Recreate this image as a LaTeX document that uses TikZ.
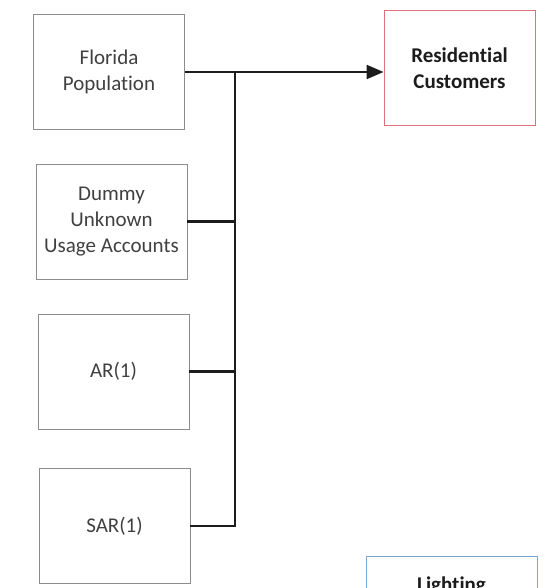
\documentclass[tikz,border=0pt]{standalone}
\usepackage{fontspec}
\setmainfont[Ligatures=NoCommon]{Carlito}
\usetikzlibrary{arrows.meta}
\definecolor{boxgray}{HTML}{8C8C8C}
\definecolor{textgray}{HTML}{404040}
\definecolor{resred}{HTML}{E0707C}
\definecolor{lightblue}{HTML}{7BA7D6}
\definecolor{linedark}{HTML}{1C1C1C}
\begin{document}
\begin{tikzpicture}[x=1pt,y=-1pt,
  box/.style={draw=boxgray, line width=0.9pt, minimum width=151pt, minimum height=115pt,
    align=center, inner sep=0pt, text=textgray, font=\fontsize{21}{26}\selectfont},
  target/.style={box, text=linedark, font=\fontsize{21}{26}\selectfont\bfseries},
  link/.style={draw=linedark, line width=2.2pt},
]
\useasboundingbox (0,0) rectangle (544,588);
\clip (0,0) rectangle (544,588);

% input boxes
\node[box] (fl)  at (109,72)    {Florida\\Population};
\node[box] (du)  at (111.5,221.5) {Dummy\\Unknown\\Usage Accounts};
\node[box] (ar)  at (113.5,371.5) {AR(1)};
\node[box] (sar) at (114.5,526) {SAR(1)};

% output boxes
\node[target, draw=resred] (res) at (459.5,68) {Residential\\Customers};
\node[target, draw=lightblue, anchor=north, minimum height=0pt, inner ysep=20pt,
      minimum width=171pt] (lt) at (451.5,556) {Lighting};

% collecting bus
\coordinate (bus) at (235,0);
\draw[link, -{Triangle[length=17pt,width=14pt]}] (fl.east) -- (fl.east -| res.west);
\draw[link, line join=miter] (bus |- fl.east) -- (bus |- sar.east) -- (sar.east);
\draw[link] (du.east) -- (du.east -| bus);
\draw[link] (ar.east) -- (ar.east -| bus);
\end{tikzpicture}
\end{document}
